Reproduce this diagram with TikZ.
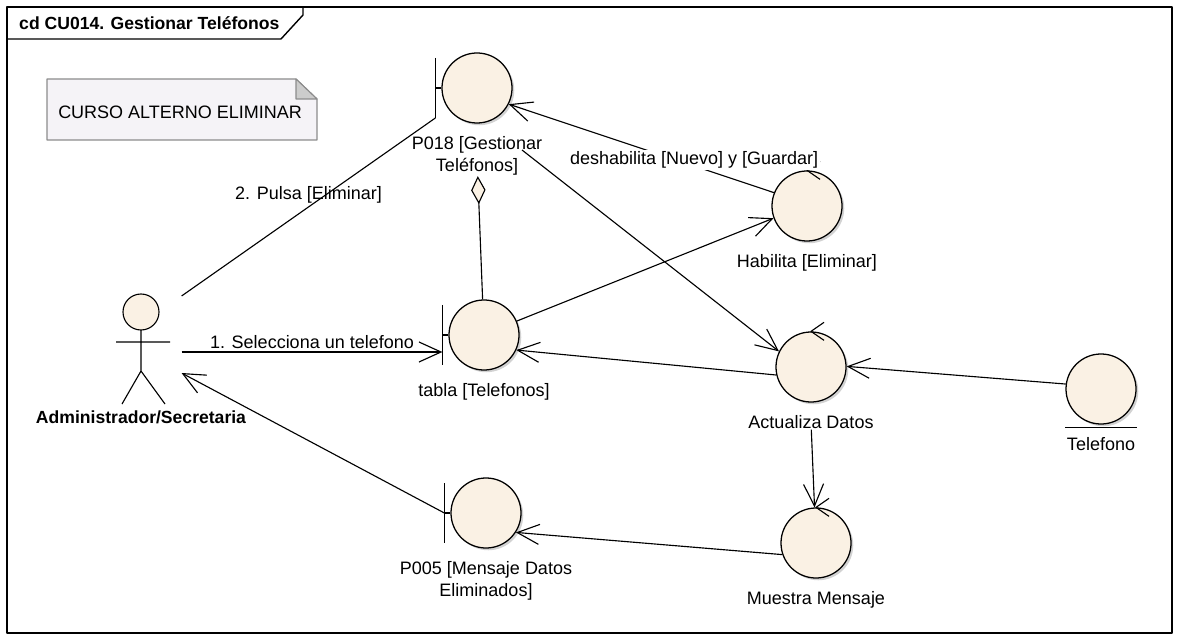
\documentclass[tikz,border=0pt]{standalone}
\usepackage{fontspec}
\setmainfont{Liberation Sans}
\usetikzlibrary{positioning,shadows,arrows.meta}
\definecolor{crema}{RGB}{250,241,228}
\definecolor{nota}{RGB}{245,243,247}
\tikzset{
  clase/.style={circle, draw, line width=0.9pt, fill=crema, minimum size=1.75cm, inner sep=0pt,
    drop shadow={shadow xshift=1.6pt, shadow yshift=-1.6pt, fill=black!35}},
  etiq/.style={inner sep=0pt, align=center},
  flecha/.style={-{Straight Barb[length=5.5mm,width=5mm]}}
}
\begin{document}
\begin{tikzpicture}[x=0.025cm, y=-0.025cm, line width=0.8pt, line join=round, font=\fontsize{12.8}{15.6}\selectfont]
\useasboundingbox (0,0) rectangle (1181,642);
\draw[line width=1pt] (7,7) rectangle (1172,633);
\draw[line width=1pt] (7,39) -- (281,39) -- (303,15) -- (303,7);
\node[anchor=west, font=\fontsize{12.5}{15}\selectfont\bfseries] (titulo) at (14,23) {cd CU014. Gestionar Teléfonos};

% nota
\draw[draw=black!45, fill=nota] (47,79) -- (296,79) -- (317,99) -- (317,140) -- (47,140) -- cycle;
\draw[draw=black!45, fill=black!20] (296,79) -- (296,99) -- (317,99) -- cycle;
\node[anchor=west] (nota) at (53,112) {CURSO ALTERNO ELIMINAR};

% clases
\node[clase] (p018) at (477,88) {};
\node[clase] (tabla) at (484,335) {};
\node[clase] (hab) at (807,206) {};
\node[clase] (act) at (811,367) {};
\node[clase] (tel) at (1101,389) {};
\node[clase] (p005) at (486,513) {};
\node[clase] (mue) at (816,543) {};

\node[etiq, below=9pt of p018] (p018l) {P018 [Gestionar\\Teléfonos]};
\node[etiq, below=9pt of tabla] (tablal) {tabla [Telefonos]};
\node[etiq, below=9pt of hab] (habl) {Habilita [Eliminar]};
\node[etiq, below=9pt of act] (actl) {Actualiza Datos};
\node[etiq, below=9pt of tel] (tell) {Telefono};
\node[etiq, below=9pt of p005] (p005l) {P005 [Mensaje Datos\\Eliminados]};
\node[etiq, below=9pt of mue] (muel) {Muestra Mensaje};

\foreach \n in {p018,tabla,p005}{
  \draw (\n.west) -- ++(-6,0) coordinate (\n-bar) ++(0,-30) coordinate (\n-top) -- ++(0,60) coordinate (\n-bot);
}
\foreach \n in {hab,act,mue}{
  \draw (\n.north) ++(13,-9) -- (\n.north) -- ++(13,9);
}
\draw (tel.south) ++(-36,3) -- ++(72,0);

% actor
\node[minimum width=2cm, minimum height=2.4cm, inner sep=0pt] (admin) at (141,340) {};
\draw[fill=crema] (141,312) circle (0.45cm);
\draw (141,330) -- (141,371) (116,342) -- (170,342) (122,404) -- (141,371) -- (165,404);
\node[etiq, font=\fontsize{12.5}{15}\selectfont\bfseries] (adminl) at (141,417) {Administrador/Secretaria};

% conectores
\draw ([shift={(0,-44)}]admin.east) -- (p018-bot) node[midway, above, inner sep=2pt] {2. Pulsa [Eliminar]};
\draw[flecha] ([shift={(0,12)}]admin.east) -- ([shift={(0,17)}]tabla-bar) node[midway, above, inner sep=2pt] {1. Selecciona un telefono};
\draw[flecha] (tabla.23) -- (hab.200);
\draw[flecha] (hab.158) -- (p018.333) node[pos=0.37, xshift=13pt, fill=white, inner sep=1pt] {deshabilita [Nuevo] y [Guardar]};
\draw[flecha] ([shift={(45,62)}]p018.center) -- (act.154);
\draw[flecha] (act.193) -- (tabla.335);
\draw[flecha] (tel.172) -- (act.1);
\draw[flecha] (actl) -- (mue);
\draw[flecha] (mue.199) -- (p005.327);
\draw[flecha] (p005-bar) -- ([shift={(0,33)}]admin.east);
\draw[-{Diamond[length=7mm,width=3.6mm,fill=crema]}] (tabla) -- (p018l);
\end{tikzpicture}
\end{document}
